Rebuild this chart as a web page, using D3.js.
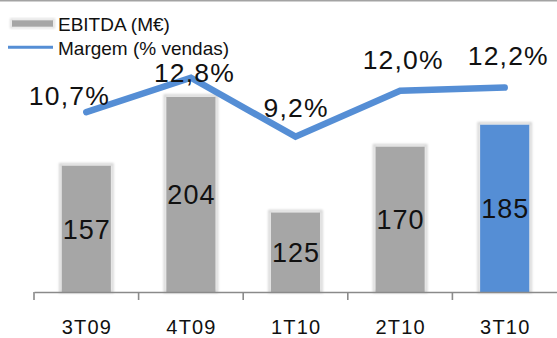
<!DOCTYPE html>
<html>
<head>
<meta charset="utf-8">
<script src="https://cdn.jsdelivr.net/npm/d3@7"></script>
<style>
  html, body { margin: 0; padding: 0; background: #fff; }
  svg { display: block; font-family: "Liberation Sans", Arial, sans-serif; }
</style>
</head>
<body>
<svg id="chart" width="557" height="338"></svg>
<script>
// Quarterly EBITDA (M€) and EBITDA margin (% of sales)
const categories = ["3T09", "4T09", "1T10", "2T10", "3T10"];
const ebitda = [157, 204, 125, 170, 185];
const margem = [10.7, 12.8, 9.2, 12.0, 12.2];
const currentQuarter = "3T10";
const seriesNames = ["EBITDA (M€)", "Margem (% vendas)"];

// Hand-placed offsets for the margin labels (dx, dy in px)
const marginLabelNudge = [[-17.5, 14], [3, 25], [0, 1], [2.5, -1], [3, -1.5]];

const GRAY = "#a6a6a6";
const BLUE = "#558ed5";
const AXIS = "#8a8a8a";

const svg = d3.select("#chart");
const W = 557, H = 338;
const baseY = 292;

// soft halo behind bars
const defs = svg.append("defs");
defs.append("filter").attr("id", "halo")
  .attr("x", "-20%").attr("y", "-20%").attr("width", "140%").attr("height", "140%")
  .append("feGaussianBlur").attr("stdDeviation", 1);

// top frame line
svg.append("rect").attr("x", 0).attr("y", 0).attr("width", W).attr("height", 1.5)
  .attr("fill", "#a3a3a3");

const x = d3.scaleBand().domain(categories).range([34, 557])
  .paddingInner(0.53).paddingOuter(0.265);
const y = d3.scaleLinear().domain([70, 250]).range([293, 29.6]);
const y2 = d3.scaleLinear().domain([0, 16]).range([287.2, 25.4]);

const rows = categories.map((c, i) => ({ c, v: ebitda[i], m: margem[i], i }));

// bars
const bars = svg.append("g");
bars.selectAll("rect.halo").data(rows).join("rect")
  .attr("class", "halo")
  .attr("x", d => x(d.c) - 1.5)
  .attr("y", d => y(d.v) - 1.5)
  .attr("width", x.bandwidth() + 3)
  .attr("height", d => baseY - y(d.v) + 1.5)
  .attr("fill", "none")
  .attr("stroke", "#d6d6d6")
  .attr("stroke-width", 2.5)
  .attr("filter", "url(#halo)");
bars.selectAll("rect.bar").data(rows).join("rect")
  .attr("class", "bar")
  .attr("x", d => x(d.c))
  .attr("y", d => y(d.v))
  .attr("width", x.bandwidth())
  .attr("height", d => baseY - y(d.v))
  .attr("fill", d => d.c === currentQuarter ? BLUE : GRAY);

// bar value labels, centred in each bar
bars.selectAll("text").data(rows).join("text")
  .attr("x", d => x(d.c) + x.bandwidth() / 2 + 0.5)
  .attr("y", d => (y(d.v) + baseY) / 2)
  .attr("dy", "0.36em")
  .attr("text-anchor", "middle")
  .attr("font-size", 27)
  .attr("letter-spacing", 1)
  .attr("fill", "#111")
  .text(d => d.v);

// x axis: labels through d3.axisBottom, category boundary ticks drawn below
const axis = svg.append("g").attr("transform", `translate(0,${baseY})`)
  .call(d3.axisBottom(x).tickSizeInner(0).tickSizeOuter(0).tickPadding(28));
axis.select(".domain").attr("stroke", AXIS).attr("stroke-width", 1.6);
axis.selectAll(".tick text")
  .attr("font-size", 20)
  .attr("letter-spacing", 1.2)
  .attr("fill", "#111")
  .attr("font-family", "Liberation Sans, Arial, sans-serif")
  .attr("dx", "0.6");
const bounds = d3.range(categories.length).map(i => x.range()[0] + i * x.step());
svg.append("g").selectAll("line").data(bounds).join("line")
  .attr("x1", d => d).attr("x2", d => d)
  .attr("y1", baseY).attr("y2", baseY + 8)
  .attr("stroke", AXIS).attr("stroke-width", 1.6);

// margin line
const cx = c => x(c) + x.bandwidth() / 2;
const line = d3.line().x(d => cx(d.c)).y(d => y2(d.m));
svg.append("path").datum(rows)
  .attr("d", line)
  .attr("fill", "none")
  .attr("stroke", BLUE)
  .attr("stroke-width", 6.5)
  .attr("stroke-linecap", "round")
  .attr("stroke-linejoin", "miter");

const fmtPct = v => v.toFixed(1).replace(".", ",") + "%";
svg.append("g").selectAll("text").data(rows).join("text")
  .attr("x", d => cx(d.c) + marginLabelNudge[d.i][0] + 0.6)
  .attr("y", d => y2(d.m) - 21 + marginLabelNudge[d.i][1])
  .attr("text-anchor", "middle")
  .attr("font-size", 26.5)
  .attr("letter-spacing", 1.2)
  .attr("fill", "#111")
  .text(d => fmtPct(d.m));

// legend
const lg = svg.append("g");
lg.append("rect").attr("x", 11).attr("y", 19.3).attr("width", 43).attr("height", 8.2)
  .attr("fill", "none").attr("stroke", "#dedede").attr("stroke-width", 2)
  .attr("filter", "url(#halo)");
lg.append("rect").attr("x", 12).attr("y", 20.3).attr("width", 41).attr("height", 6.4)
  .attr("fill", GRAY);
lg.append("line").attr("x1", 8).attr("x2", 53).attr("y1", 47.3).attr("y2", 47.3)
  .attr("stroke", BLUE).attr("stroke-width", 3);
lg.selectAll("text").data(seriesNames).join("text")
  .attr("x", 58)
  .attr("y", (d, i) => i === 0 ? 30.5 : 55)
  .attr("font-size", 19)
  .attr("fill", "#111")
  .text(d => d);
</script>
</body>
</html>
